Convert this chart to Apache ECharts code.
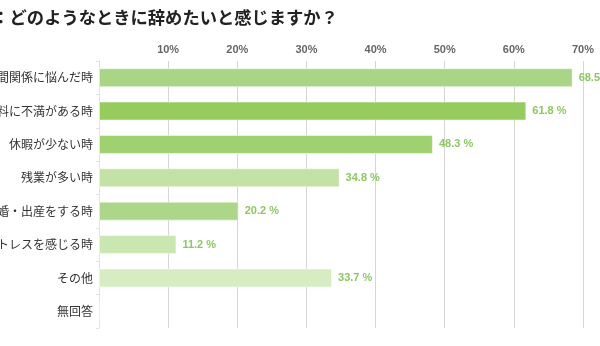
<!DOCTYPE html>
<html><head><meta charset="utf-8">
<script src="https://cdn.jsdelivr.net/npm/echarts@6/dist/echarts.min.js"></script>
<style>html,body{margin:0;padding:0;background:#fff}#c{width:600px;height:346px}</style>
</head><body><div id="c"></div>
<script>
const titleText = 'Q：どのようなときに辞めたいと感じますか？';
const categories = ['人間関係に悩んだ時','給料に不満がある時','休暇が少ない時','残業が多い時','結婚・出産をする時','ストレスを感じる時','その他','無回答'];
const values = [68.5, 61.8, 48.3, 34.8, 20.2, 11.2, 33.7, 0];
const barColors = ['#a9d586','#96cc5e','#a0d170','#c4e2a6','#acd788','#cae6b1','#d6ecc3','#e0f0d0'];
const tickValues = [10,20,30,40,50,60,70];

const chart = echarts.init(document.getElementById('c'));
chart.setOption({
  animation:false,
  graphic:[{type:'text',x:-21,y:9,style:{text:titleText,fontSize:17.3,fontWeight:'bold',fill:'#222',fontFamily:'Noto Sans CJK JP'}}],
  grid:{left:99,right:17,top:61,bottom:18,containLabel:false,outerBoundsMode:'none'},
  xAxis:{type:'value',position:'top',min:0,max:70,interval:10,
    axisLine:{show:false},axisTick:{show:false},
    axisLabel:{showMinLabel:false,formatter:v=>tickValues.includes(v)?v+'%':'',color:'#666',fontSize:11,fontWeight:'bold',fontFamily:'Liberation Sans',margin:6},
    splitLine:{show:true,lineStyle:{color:'#d6d6d6',width:1}}},
  yAxis:{type:'category',inverse:true,data:categories,
    axisLine:{show:true,lineStyle:{color:'#dde3ea'}},
    axisTick:{show:true,length:3,lineStyle:{color:'#dde3ea'}},
    axisLabel:{color:'#333',fontSize:12,margin:6,fontFamily:'Noto Sans CJK JP'}},
  series:[{type:'bar',barCategoryGap:'43%',
    data:values.map((v,i)=>({value:v,itemStyle:{color:barColors[i],borderColor:'rgba(255,255,255,0.5)',borderWidth:1}})),
    label:{show:true,position:'right',distance:6,color:'#8cc862',fontSize:11,fontWeight:'bold',fontFamily:'Liberation Sans',
      formatter:p=>p.value>0?p.value.toFixed(1)+' %':''}}]
});
</script></body></html>
